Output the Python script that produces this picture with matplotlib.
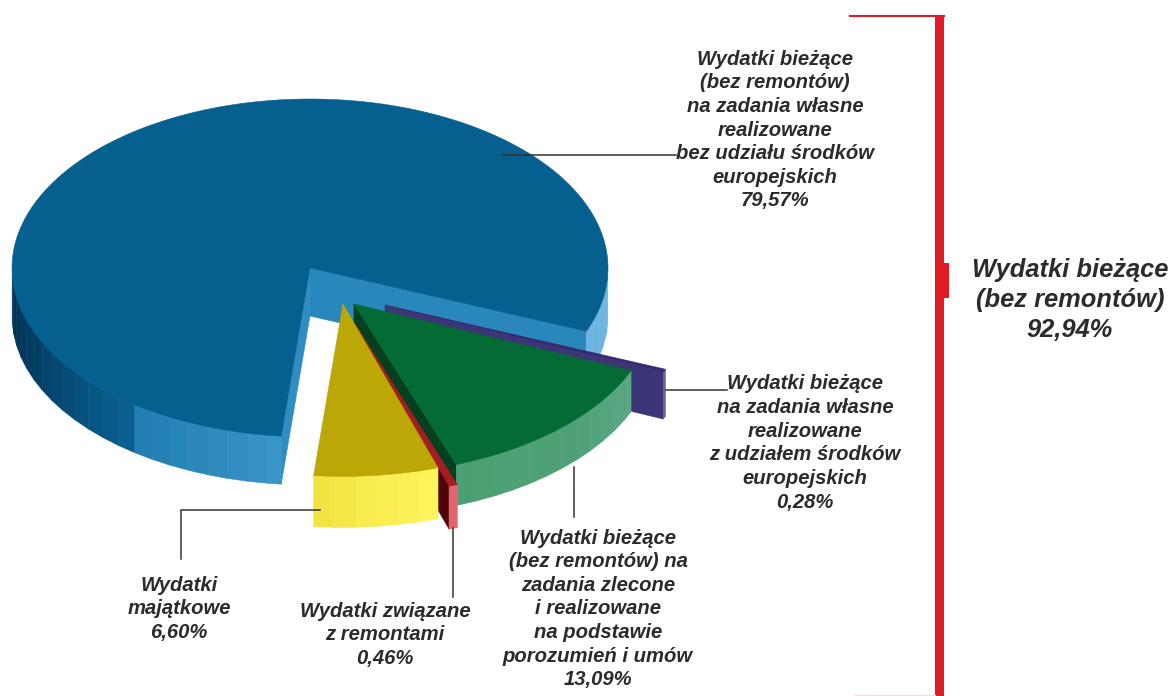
import numpy as np
import matplotlib
matplotlib.use('Agg')
from matplotlib import pyplot as plt
from matplotlib.colors import to_rgb
from matplotlib.patches import Polygon, Rectangle

# udzial procentowy, kolejnosc przeciwnie do wskazowek zegara
names = ['wlasne', 'majatkowe', 'remonty', 'zlecone', 'europejskie']
shares = [79.57, 6.60, 0.46, 13.09, 0.28]

label_wlasne = 'Wydatki bieżące\n(bez remontów)\nna zadania własne\nrealizowane\nbez udziału środków\neuropejskich\n79,57%'
label_europ = 'Wydatki bieżące\nna zadania własne\nrealizowane\nz udziałem środków\neuropejskich\n0,28%'
label_zlecone = 'Wydatki bieżące\n(bez remontów) na\nzadania zlecone\ni realizowane\nna podstawie\nporozumień i umów\n13,09%'
label_remonty = 'Wydatki związane\nz remontami\n0,46%'
label_majatk = 'Wydatki\nmajątkowe\n6,60%'
label_total = 'Wydatki bieżące\n(bez remontów)\n92,94%'

# wyglad wycinkow
cx, cy, rx, ry = 310, 268, 298, 169
start_angle = -22
style = {
    'wlasne': dict(off=(0, 0), r=1.0, depth=48, top='#05608f', start='#2a87bb', end='#2f8dc2',
                   rim=[(180, '#022f4f'), (205, '#033f66'), (232, '#0a5f90'), (233, '#1f7cb0'),
                        (265, '#3a95c8'), (266, '#6db5e0'), (360, '#6db5e0')]),
    'majatkowe': dict(off=(33, 36), r=1.02, depth=51, top='#bba705', start='#000000', end='#000000',
                      rim=[(264, '#efe03c'), (272, '#f6e94a'), (288, '#fff45c')]),
    'remonty': dict(off=(45, 56), r=1.01, depth=43, top='#a51c22', start='#4f0508', end='#000000',
                    rim=[(288, '#e4656d'), (290, '#e4656d')]),
    'zlecone': dict(off=(44, 36), r=1.01, depth=41, top='#036b33', start='#04401f', end='#000000',
                    rim=[(290, '#4c9f73'), (315, '#4fa078'), (337, '#5aa784')]),
    'europejskie': dict(off=(75, 37), r=1.015, depth=47, top='#36296e', start='#3c3576', end='#000000',
                        rim=[(337, '#6a639a'), (338, '#6a639a')]),
}
draw_order = ['wlasne', 'europejskie', 'zlecone', 'remonty', 'majatkowe']

fig = plt.figure(figsize=(11.73, 6.96), dpi=100)
ax = fig.add_axes([0, 0, 1, 1])
ax.set_xlim(0, 1173)
ax.set_ylim(696, 0)
ax.axis('off')


def rim_point(t, s):
    a = np.radians(t)
    return cx + s['off'][0] + s['r'] * rx * np.cos(a), cy + s['off'][1] - s['r'] * ry * np.sin(a)


def flat(points, color):
    ax.add_patch(Polygon(points, closed=True, fc=color, ec=color, lw=0.4))


def rim_color(t, stops):
    ts = [p[0] for p in stops]
    cols = np.array([to_rgb(p[1]) for p in stops])
    return tuple(np.interp(t % 360, ts, cols[:, i]) for i in range(3))


def draw_slice(t0, t1, s):
    apex = (cx + s['off'][0], cy + s['off'][1])
    d = s['depth']

    # sciany przeciecia
    if np.cos(np.radians(t0)) > 0:
        x, y = rim_point(t0, s)
        flat([apex, (x, y), (x, y + d), (apex[0], apex[1] + d)], s['start'])
    if np.cos(np.radians(t1)) < 0:
        x, y = rim_point(t1, s)
        flat([apex, (x, y), (x, y + d), (apex[0], apex[1] + d)], s['end'])

    # bok z pasow, tylko dolna polowa elipsy jest widoczna
    edges = np.arange(t0, t1 + 4, 4.0)
    edges[-1] = t1
    for a, b in zip(edges[:-1], edges[1:]):
        if np.sin(np.radians((a + b) / 2)) >= 0:
            continue
        xa, ya = rim_point(a, s)
        xb, yb = rim_point(b, s)
        flat([(xa, ya), (xb, yb), (xb, yb + d), (xa, ya + d)], rim_color((a + b) / 2, s['rim']))

    # wierzch
    tt = np.linspace(t0, t1, 200)
    pts = [apex] + [rim_point(t, s) for t in tt]
    flat(pts, s['top'])


# katy z udzialow
spans = np.array(shares) / sum(shares) * 360
starts = start_angle + np.concatenate([[0], np.cumsum(spans)[:-1]])
for name in draw_order:
    i = names.index(name)
    draw_slice(starts[i], starts[i] + spans[i], style[name])

# linie odniesienia
line_col = '#333333'
leaders = [
    ([503, 676], [155, 155]),
    ([666, 727], [390, 390]),
    ([574, 574], [467, 517]),
    ([453, 453], [528, 597]),
    ([181, 181, 320], [559, 510, 510]),
]
for xs, ys in leaders:
    ax.plot(xs, ys, color=line_col, lw=1.1, solid_joinstyle='miter')

# czerwona klamra
red = '#e01b24'
ax.add_patch(Rectangle((935, 16), 9, 680, fc=red, ec='none'))
ax.add_patch(Rectangle((935, 263), 14, 35, fc=red, ec='none'))
ax.plot([850, 944], [16, 16], color='#d9202a', lw=1.5)
ax.plot([855, 935], [695, 695], color='#f8dcdc', lw=1.0)

font = dict(family='Liberation Sans', weight='bold', style='italic', color='#2b2b2b',
            ha='center', va='center', multialignment='center')
ax.text(775, 130, label_wlasne, fontsize=14.6, linespacing=1.31, **font)
ax.text(805, 443, label_europ, fontsize=14.6, linespacing=1.31, **font)
ax.text(598, 609, label_zlecone, fontsize=14.6, linespacing=1.31, **font)
ax.text(385, 635, label_remonty, fontsize=14.6, linespacing=1.31, **font)
ax.text(179, 609, label_majatk, fontsize=14.6, linespacing=1.31, **font)
ax.text(1070, 300, label_total, fontsize=18.4, linespacing=1.3, **font)

fig.savefig('out.png', dpi=100)
